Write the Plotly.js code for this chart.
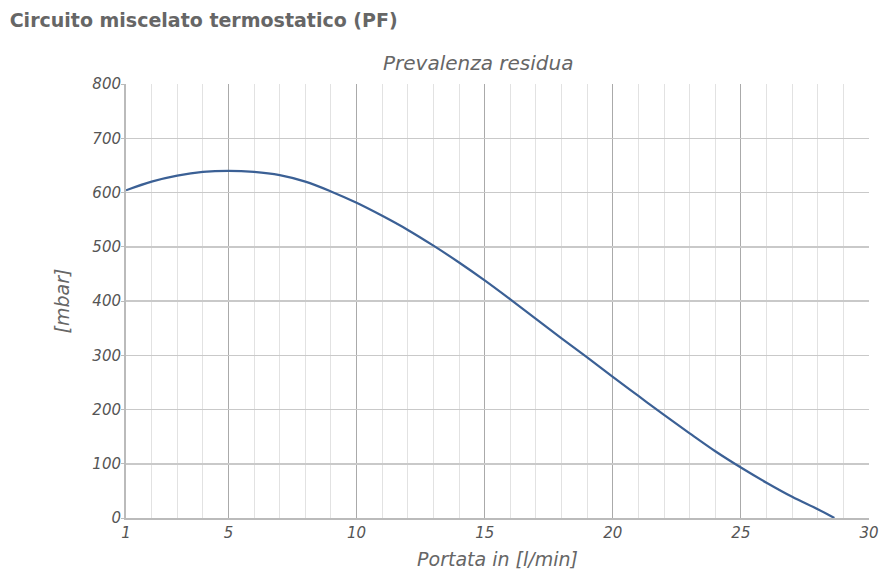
<!DOCTYPE html>
<html>
<head>
<meta charset="utf-8">
<script src="https://cdn.plot.ly/plotly-3.0.1.min.js"></script>
<style>
html,body{margin:0;padding:0;background:#fff;}
#chart{width:880px;height:576px;}
</style>
</head>
<body>
<div id="chart"></div>
<script>
const chartTitle = "Circuito miscelato termostatico (PF)";
const seriesName = "Prevalenza residua";
const xTitle = "Portata in [l/min]";
const yTitle = "[mbar]";
const flow = [1, 2, 3, 4, 5, 6, 7, 8, 9, 10, 11, 12, 13, 14, 15, 16, 17, 18, 19, 20, 21, 22, 23, 24, 25, 26, 27, 28, 28.65];
const head = [604, 620, 631, 638, 640, 638, 632, 620, 602, 581, 557, 531, 502, 471, 438, 403, 367, 331, 296, 260, 225, 190, 156, 123, 93, 65, 39, 16, 0];
const xTickVals = [1, 5, 10, 15, 20, 25, 30];
const xTickText = ["1", "5", "10", "15", "20", "25", "30"];
const yTickVals = [0, 100, 200, 300, 400, 500, 600, 700, 800];

const FONT = "'DejaVu Sans', sans-serif";
const tickFont = {family: FONT, size: 15, color: '#555', style: 'italic'};

Plotly.newPlot('chart', [{
  x: flow, y: head, type: 'scatter', mode: 'lines', name: seriesName,
  line: {color: '#3b6095', width: 2.2, shape: 'spline', smoothing: 1},
  hoverinfo: 'x+y'
}], {
  width: 880, height: 576,
  margin: {l: 126, r: 11, t: 84, b: 58},
  paper_bgcolor: '#fff', plot_bgcolor: '#fff',
  showlegend: false,
  title: {text: '<b>' + chartTitle + '</b>', x: 0.011, xanchor: 'left', y: 0.965, yanchor: 'middle',
          font: {family: FONT, size: 19, color: '#666'}},
  annotations: [{
    text: '<i>' + seriesName + '</i>', xref: 'paper', yref: 'paper', x: 0.474, y: 1, yanchor: 'bottom', yshift: 7,
    showarrow: false, font: {family: FONT, size: 20, color: '#666'}
  }],
  xaxis: {
    range: [1, 30], tickmode: 'array', tickvals: xTickVals, ticktext: xTickText,
    tickfont: tickFont, showgrid: true, gridcolor: '#aaaaaa', gridwidth: 1,
    showline: true, linecolor: '#bbbbbb', linewidth: 2, mirror: false,
    ticks: '', zeroline: false,
    minor: {tickmode: 'linear', tick0: 0, dtick: 1, showgrid: true, gridcolor: '#e2e2e2', gridwidth: 1, ticks: ''},
    title: {text: '<i>' + xTitle + '</i>', font: {family: FONT, size: 19, color: '#666'}, standoff: 12}
  },
  yaxis: {
    range: [0, 800], tickmode: 'array', tickvals: yTickVals,
    tickfont: tickFont, showgrid: true, gridcolor: '#c9c9c9', gridwidth: 1.5,
    showline: true, linecolor: '#bbbbbb', linewidth: 2,
    ticks: 'outside', ticklen: 3, tickcolor: '#bbbbbb', zeroline: false, ticklabelstandoff: -3,
    title: {text: '<i>' + yTitle + '</i>', font: {family: FONT, size: 19, color: '#666'}, standoff: 18}
  }
}, {displayModeBar: false, staticPlot: true});
</script>
</body>
</html>
